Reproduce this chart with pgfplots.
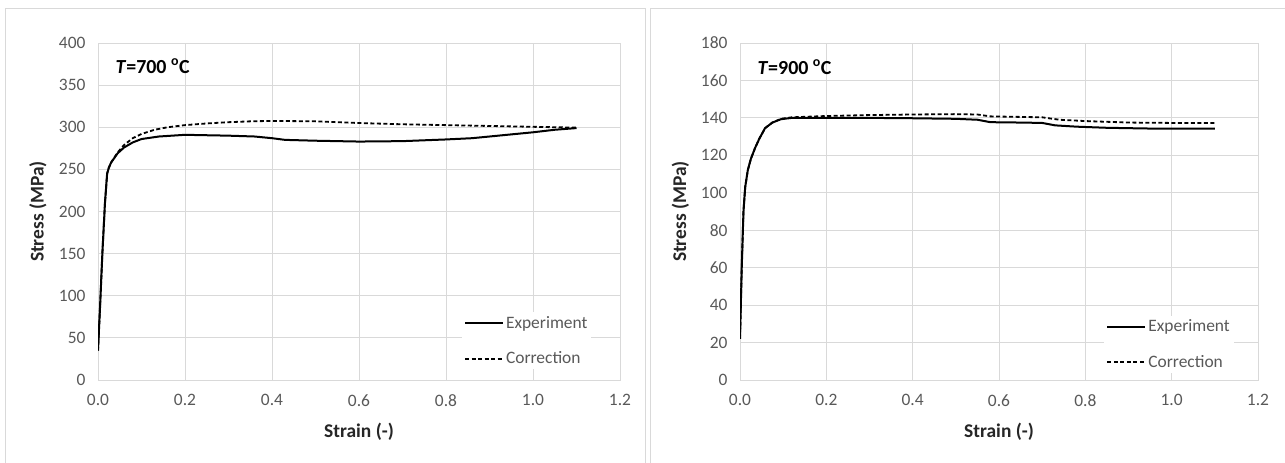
\documentclass[border=0pt]{standalone}
\usepackage{fontspec}
\setmainfont{Carlito}
\usepackage{pgfplots}
\pgfplotsset{compat=1.18}
\definecolor{gridc}{HTML}{D9D9D9}
\definecolor{tickc}{HTML}{595959}
\definecolor{framec}{HTML}{D9D9D9}
\pgfplotsset{
 myax/.style={
  scale only axis, height=337bp,
  xmin=0, xmax=1.2, ymin=0,
  xtick={0,0.2,0.4,0.6,0.8,1.0,1.2},
  grid=major, grid style={gridc, line width=0.8bp},
  axis line style={gridc, line width=0.8bp},
  major tick length=0pt,
  /pgf/number format/assume math mode=true,
  tick label style={font=\fontsize{17.5}{20}\selectfont, text=tickc},
  xticklabel style={/pgf/number format/fixed, /pgf/number format/fixed zerofill, /pgf/number format/precision=1, yshift=-11bp},
  yticklabel style={xshift=-9bp},
  scaled ticks=false,
  xlabel={Strain (-)}, ylabel={Stress (MPa)},
  label style={font=\fontsize{19.5}{22}\selectfont\bfseries, text=black!85},
  xlabel style={at={(axis description cs:0.5,-0.154)}, anchor=center},
  ylabel style={at={(axis description cs:-0.115,0.5)}, anchor=center},
  legend style={draw=none, fill=white, font=\fontsize{17.5}{20}\selectfont, text=tickc, row sep=18bp, inner sep=2bp, anchor=north west},
  legend cell align=left,
  legend image code/.code={\draw[##1] (0bp,0bp) -- (38bp,0bp);},
 },
 expl/.style={black, line width=2bp},
 corr/.style={black, line width=1.8bp, dash pattern=on 4bp off 2.5bp},
}
\begin{document}
\begin{tikzpicture}[x=1bp,y=1bp]
\useasboundingbox (0,0) rectangle (1285,463);
\fill[white] (0,0) rectangle (1285,463);
\draw[framec, line width=1bp] (5,0) -- (5,454) -- (645,454) -- (645,0);
\draw[framec, line width=1bp] (650,0) -- (650,454) -- (1285,454);

\begin{axis}[myax, width=522bp, at={(98bp,83bp)}, anchor=south west,
  ymax=400, ytick={0,50,...,400},
  legend style={at={(0.697,0.201)}}]
\addplot[expl] coordinates {(0.000,35) (0.005,90) (0.010,150) (0.016,210) (0.021,245) (0.025,252) (0.030,258) (0.045,269) (0.060,276) (0.080,282) (0.100,286) (0.140,289) (0.200,291) (0.300,290) (0.360,289) (0.400,287) (0.430,285) (0.500,284) (0.600,283) (0.700,283.5) (0.800,285.5) (0.860,287) (0.920,290) (1.000,294) (1.050,297) (1.100,299)};
\addlegendentry{Experiment}
\addplot[corr] coordinates {(0.000,35) (0.005,90) (0.010,150) (0.016,210) (0.021,245) (0.025,252) (0.030,258) (0.045,270) (0.060,279) (0.080,287) (0.100,292) (0.130,297) (0.160,300) (0.200,302.5) (0.250,304.5) (0.300,306) (0.350,307) (0.400,307.5) (0.500,307) (0.550,306) (0.600,305) (0.700,303.5) (0.800,302.5) (0.900,301.5) (1.000,300.5) (1.100,299.5)};
\addlegendentry{Correction}
\node[anchor=west, font=\fontsize{20}{22}\selectfont\bfseries] at (axis description cs:0.027,0.932) {\textit{T}=700 \textsuperscript{o}C};
\end{axis}

\begin{axis}[myax, width=518bp, at={(740bp,83bp)}, anchor=south west,
  ymax=180, ytick={0,20,...,180},
  legend style={at={(0.703,0.191)}}]
\addplot[expl] coordinates {(0.000,22) (0.004,60) (0.008,90) (0.012,103) (0.018,112) (0.025,118) (0.035,124) (0.045,129) (0.058,134.5) (0.075,137.5) (0.095,139.3) (0.120,140) (0.200,140) (0.300,140) (0.400,139.8) (0.500,139.5) (0.550,139) (0.580,137.7) (0.650,137.5) (0.700,137.3) (0.730,136) (0.780,135.3) (0.850,134.7) (0.950,134.3) (1.100,134.3)};
\addlegendentry{Experiment}
\addplot[corr] coordinates {(0.000,22) (0.004,60) (0.008,90) (0.012,103) (0.018,112) (0.025,118) (0.035,124) (0.045,129) (0.058,134.5) (0.075,137.5) (0.095,139.5) (0.120,140.3) (0.200,141) (0.300,141.5) (0.400,141.8) (0.500,142) (0.550,141.8) (0.580,140.8) (0.700,140.3) (0.740,139) (0.800,138.3) (0.900,137.5) (1.000,137.3) (1.100,137.3)};
\addlegendentry{Correction}
\node[anchor=west, font=\fontsize{20}{22}\selectfont\bfseries] at (axis description cs:0.027,0.928) {\textit{T}=900 \textsuperscript{o}C};
\end{axis}
\end{tikzpicture}
\end{document}
